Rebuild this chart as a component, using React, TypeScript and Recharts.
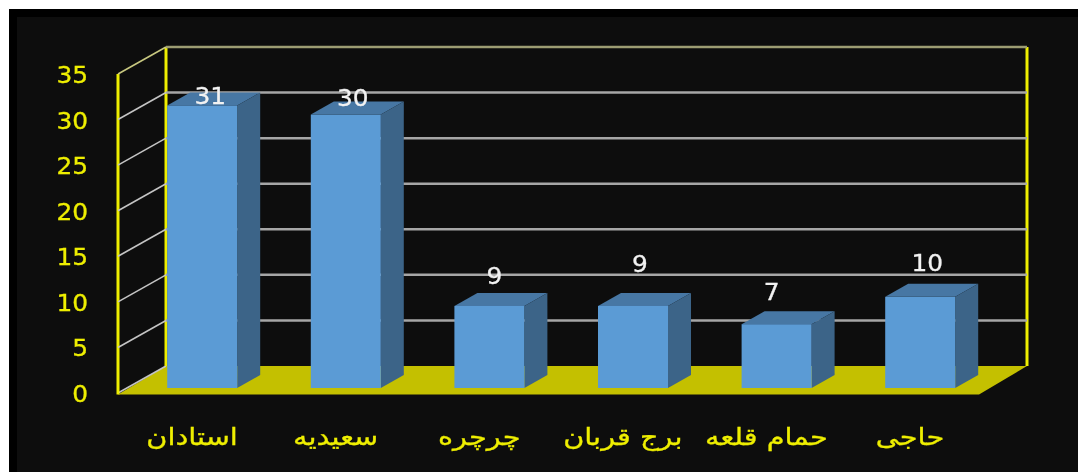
import React from "react";
import { BarChart, Bar, XAxis, YAxis, CartesianGrid, LabelList } from "recharts";

const categories = ["استادان", "سعیدیه", "چرچره", "برج قربان", "حمام قلعه", "حاجی"];
const counts = [31, 30, 9, 9, 7, 10];
const yTicks = [0, 5, 10, 15, 20, 25, 30, 35];

const W = 1078;
const H = 472;
const PLOT = { left: 130.2, right: 991.8, top: 69, bottom: 388 };
const WALL = { frontX: 118, backX: 166, rightX: 1027, frontDy: 5, backDy: -22, floorRightX: 979 };
const DEPTH = { dx: 23, dy: -13 };
const YELLOW = "#eeee00";
const FLOOR = "#c4c000";
const GRID = "#a6a6a6";
const FONT = "'DejaVu Sans', sans-serif";
const DIGIT_W = 15.8;

// hand placed data labels in the reference: offset from the bar's top centre
const labelNudge = [
  { dx: 8, dy: -9 },
  { dx: 7, dy: -17 },
  { dx: 5, dy: -30 },
  { dx: 7, dy: -42 },
  { dx: -5, dy: -32 },
  { dx: 7, dy: -34 },
];

const rows = categories.map((name, i) => ({ name, value: counts[i] }));

function Box3D(props: any) {
  const { x, y, width, height } = props;
  const { dx, dy } = DEPTH;
  const r = x + width;
  const b = y + height;
  return (
    <g>
      <polygon points={`${x},${y} ${x + dx},${y + dy} ${r + dx},${y + dy} ${r},${y}`} fill="#4777a4" />
      <polygon points={`${r},${y} ${r + dx},${y + dy} ${r + dx},${b + dy} ${r},${b}`} fill="#3c6488" />
      <rect x={x} y={y} width={width} height={height} fill="#5b9bd5" />
    </g>
  );
}

function WallLine(props: any) {
  const y = props.y1;
  const isBase = Math.abs(y - PLOT.bottom) < 1;
  const isTop = Math.abs(y - PLOT.top) < 1;
  const backY = y + WALL.backDy;
  const frontY = y + WALL.frontDy;
  return (
    <g>
      {isBase && (
        <polygon
          points={`${WALL.frontX},${frontY + 1.5} ${WALL.floorRightX},${frontY + 1.5} ${WALL.rightX},${backY} ${WALL.backX},${backY}`}
          fill={FLOOR}
        />
      )}
      {!isBase && (
        <line x1={WALL.backX} x2={WALL.rightX} y1={backY} y2={backY} stroke={isTop ? "#9c9c72" : GRID} strokeWidth={2.5} />
      )}
      <line x1={WALL.frontX} x2={WALL.backX} y1={frontY} y2={backY} stroke={isTop ? "#c8c880" : "#c4c4c4"} strokeWidth={1.6} />
      {isBase && (
        <>
          <line x1={WALL.frontX} x2={WALL.frontX} y1={PLOT.top + WALL.frontDy} y2={frontY + 1.5} stroke={YELLOW} strokeWidth={3} />
          <line x1={WALL.backX} x2={WALL.backX} y1={PLOT.top + WALL.backDy} y2={backY} stroke={YELLOW} strokeWidth={3} />
          <line x1={WALL.rightX} x2={WALL.rightX} y1={PLOT.top + WALL.backDy} y2={backY} stroke={YELLOW} strokeWidth={3} />
        </>
      )}
    </g>
  );
}

function YTick(props: any) {
  const { y, payload } = props;
  const len = String(payload.value).length * DIGIT_W;
  return (
    <text
      x={88}
      y={y + 6}
      textAnchor="end"
      dominantBaseline="central"
      fill={YELLOW}
      stroke={YELLOW}
      strokeWidth={0.3}
      fontFamily={FONT}
      fontSize={23}
      textLength={len}
      lengthAdjust="spacingAndGlyphs"
    >
      {payload.value}
    </text>
  );
}

function XTick(props: any) {
  const { x, payload } = props;
  const cx = x - 10;
  return (
    <g transform={`translate(${cx} 436) scale(1.2 1)`}>
      <text
        x={0}
        y={0}
        textAnchor="middle"
        dominantBaseline="central"
        fill={YELLOW}
        stroke={YELLOW}
        strokeWidth={0.3}
        fontFamily={FONT}
        fontSize={24}
        direction="rtl"
      >
        {payload.value}
      </text>
    </g>
  );
}

function BarValue(props: any) {
  const { x, y, width, value, index } = props;
  const n = labelNudge[index];
  const len = String(value).length * DIGIT_W;
  return (
    <text
      x={x + width / 2 + n.dx}
      y={y + n.dy}
      textAnchor="middle"
      dominantBaseline="central"
      fill="#f2f2f2"
      stroke="#f2f2f2"
      strokeWidth={0.3}
      fontFamily={FONT}
      fontSize={23}
      textLength={len}
      lengthAdjust="spacingAndGlyphs"
    >
      {value}
    </text>
  );
}

export default function App() {
  return (
    <div style={{ position: "absolute", left: 0, top: 0, width: W, height: H, background: "#fff", overflow: "hidden" }}>
      <div style={{ position: "absolute", left: 9, top: 9, right: 0, bottom: 0, background: "#000" }} />
      <div style={{ position: "absolute", left: 17, top: 17, right: 0, bottom: 0, background: "#0d0d0d" }} />
      <div style={{ position: "absolute", left: 0, top: 0, filter: "blur(0.45px)" }}>
        <BarChart
          width={W}
          height={H}
          data={rows}
          barSize={70}
          margin={{ left: PLOT.left - 60, right: W - PLOT.right, top: PLOT.top, bottom: 0 }}
        >
          <CartesianGrid vertical={false} horizontal={(p: any) => <WallLine key={p.key ?? p.index} {...p} />} />
          <XAxis dataKey="name" height={H - PLOT.bottom} axisLine={false} tickLine={false} interval={0} tick={<XTick />} />
          <YAxis width={60} domain={[0, 35]} ticks={yTicks} axisLine={false} tickLine={false} interval={0} tick={<YTick />} />
          <Bar dataKey="value" isAnimationActive={false} shape={<Box3D />}>
            <LabelList dataKey="value" content={<BarValue />} />
          </Bar>
        </BarChart>
      </div>
    </div>
  );
}
